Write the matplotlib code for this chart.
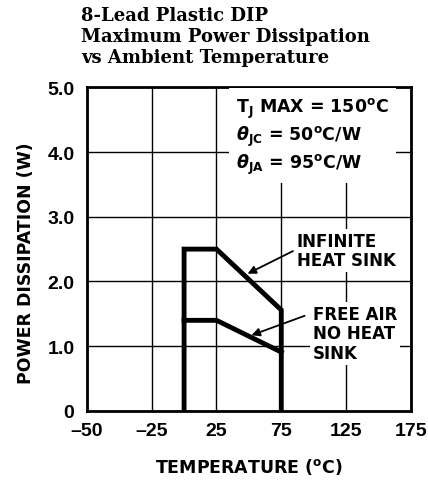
import numpy as np
import matplotlib.pyplot as plt

# axis ticks (the original chart spaces these evenly)
tick_temps = [-50, -25, 25, 75, 125, 175]
tick_labels = ['\u201350', '\u201325', '25', '75', '125', '175']
y_ticks = [0, 1, 2, 3, 4, 5]
y_labels = ['0', '1.0', '2.0', '3.0', '4.0', '5.0']

# derating curves
inf_temp = [0, 0, 25, 75, 75]
inf_power = [0, 2.5, 2.5, 1.56, 0]
air_temp = [0, 25, 75]
air_power = [1.4, 1.4, 0.91]

idx = np.arange(len(tick_temps))


def fwd(t):
    return np.interp(t, tick_temps, idx)


def inv(x):
    return np.interp(x, idx, tick_temps)


fig = plt.figure(figsize=(4.28, 4.81), dpi=100)
ax = fig.add_axes([0.203, 0.1435, 0.757, 0.673])
ax.set_xscale('function', functions=(fwd, inv))
ax.set_xlim(-50, 175)
ax.set_ylim(0, 5)

ax.set_xticks(tick_temps)
ax.set_xticklabels(tick_labels)
ax.set_yticks(y_ticks)
ax.set_yticklabels(y_labels)
ax.tick_params(length=0, labelsize=14)
ax.tick_params(axis='x', pad=8)
ax.tick_params(axis='y', pad=9)
for lab in ax.get_xticklabels() + ax.get_yticklabels():
    lab.set_fontweight('bold')
    lab.set_family('Liberation Sans')
ax.grid(True, color='black', lw=1)
for s in ax.spines.values():
    s.set_linewidth(2)

ax.plot(inf_temp, inf_power, color='black', lw=3.5, solid_joinstyle='miter', zorder=3)
ax.plot(air_temp, air_power, color='black', lw=3.5, solid_joinstyle='miter', zorder=3)

ax.text(0.46, 0.975,
        r'$\mathbf{T_J}$ MAX = 150$\mathbf{^oC}$' + '\n'
        r'$\boldsymbol{\theta}_{\mathbf{JC}}$ = 50$\mathbf{^oC}$/W' + '\n'
        r'$\boldsymbol{\theta}_{\mathbf{JA}}$ = 95$\mathbf{^oC}$/W',
        transform=ax.transAxes, ha='left', va='top', fontsize=12.5,
        fontweight='bold', linespacing=1.25,
        bbox=dict(facecolor='white', edgecolor='none', pad=5), zorder=4)

arrow = dict(arrowstyle='-|>', color='black', lw=1.3, mutation_scale=12,
             shrinkA=0, shrinkB=0)
ax.annotate('', xy=(49, 2.12), xytext=(84, 2.47), arrowprops=arrow, zorder=4)
ax.annotate('', xy=(52, 1.17), xytext=(93, 1.47), arrowprops=arrow, zorder=4)
ax.text(87, 2.48, 'INFINITE\nHEAT SINK', fontsize=12, fontweight='bold',
        ha='left', va='center', linespacing=1.1,
        bbox=dict(facecolor='white', edgecolor='none', pad=2), zorder=4)
ax.text(99.5, 1.20, 'FREE AIR\nNO HEAT\nSINK', fontsize=12, fontweight='bold',
        ha='left', va='center', linespacing=1.1,
        bbox=dict(facecolor='white', edgecolor='none', pad=2), zorder=4)

ax.set_xlabel('TEMPERATURE ($\\mathbf{^oC}$)', fontsize=12.5, fontweight='bold',
              labelpad=12)
ax.set_ylabel('POWER DISSIPATION (W)', fontsize=12.5, fontweight='bold')
ax.yaxis.set_label_coords(-0.16, 0.46)

fig.text(0.19, 0.985, '8-Lead Plastic DIP\nMaximum Power Dissipation\nvs Ambient Temperature',
         family='DejaVu Serif', fontweight='bold', fontsize=13,
         ha='left', va='top', linespacing=1.2)

fig.savefig('out.png', dpi=100)
